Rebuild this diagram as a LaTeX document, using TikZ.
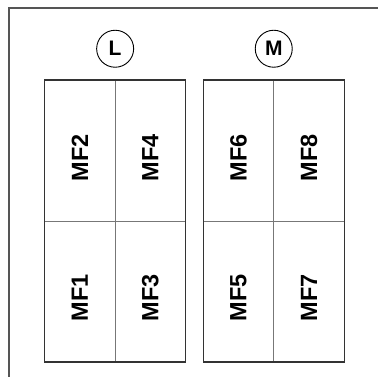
\documentclass[tikz,border=0pt]{standalone}
\usepackage{fontspec}
\setmainfont{Liberation Sans}
\usepackage{tikz}
\usetikzlibrary{positioning}
\definecolor{frame}{HTML}{555555}
\definecolor{ink}{HTML}{333333}
\definecolor{rule}{HTML}{777777}

\begin{document}
\begin{tikzpicture}[x=1pt,y=1pt,
    cell/.style={draw=rule,line width=0.9pt,minimum width=70.5pt,minimum height=141pt,inner sep=0pt,outer sep=0pt},
    mftext/.style={rotate=90,font=\fontsize{23.5}{24}\selectfont\bfseries,inner sep=0pt},
    side/.style={draw,circle,line width=0.9pt,minimum size=37pt,inner sep=0pt,font=\fontsize{21}{22}\selectfont\bfseries}]
  \useasboundingbox (0,0) rectangle (378,377);
  \draw[frame,line width=1.3pt] (9,0)--(9,369)--(378,369);
  % L block
  \node[cell] (mf2) at (79.9,226.3) {};
  \node[cell,below=0pt of mf2] (mf1) {};
  \node[cell,right=0pt of mf2] (mf4) {};
  \node[cell,below=0pt of mf4] (mf3) {};
  \draw[ink,line width=1.5pt] (mf2.north west) rectangle (mf3.south east);
  % M block
  \node[cell,right=17.6pt of mf4] (mf6) {};
  \node[cell,below=0pt of mf6] (mf5) {};
  \node[cell,right=0pt of mf6] (mf8) {};
  \node[cell,below=0pt of mf8] (mf7) {};
  \draw[ink,line width=1.5pt] (mf6.north west) rectangle (mf7.south east);
  % side marks
  \node[side,above=12.5pt of mf2.north east] (sideL) {L};
  \node[side,above=12.5pt of mf6.north east] (sideM) {M};
  % labels
  \node[mftext] (tMF1) at ([yshift=-6pt]mf1.center) {MF1};
  \node[mftext] (tMF2) at ([yshift=-7pt]mf2.center) {MF2};
  \node[mftext] (tMF3) at ([yshift=-6pt]mf3.center) {MF3};
  \node[mftext] (tMF4) at ([yshift=-7pt]mf4.center) {MF4};
  \node[mftext] (tMF5) at ([yshift=-6pt]mf5.center) {MF5};
  \node[mftext] (tMF6) at ([yshift=-7pt]mf6.center) {MF6};
  \node[mftext] (tMF7) at ([yshift=-6pt]mf7.center) {MF7};
  \node[mftext] (tMF8) at ([yshift=-7pt]mf8.center) {MF8};
\end{tikzpicture}
\end{document}
